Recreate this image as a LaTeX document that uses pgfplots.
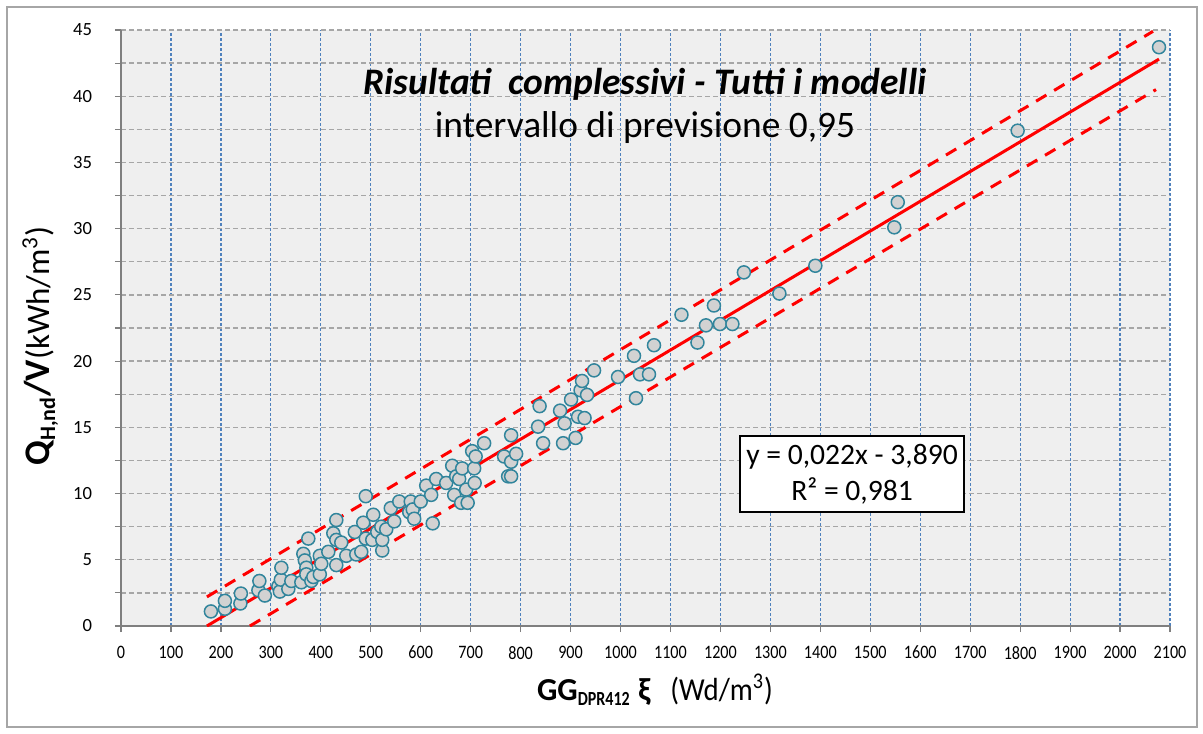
\documentclass[border=0pt]{standalone}
\usepackage{fontspec}
\setmainfont{Carlito}
\usepackage{graphicx}
\usepackage{pgfplots}
\pgfplotsset{compat=1.18}
\usepackage{pgfplotstable}
\definecolor{plotbg}{HTML}{EFEFEF}
\definecolor{vgrid}{HTML}{4F81BD}
\definecolor{hgrid}{HTML}{A6A6A6}
\definecolor{axgray}{HTML}{7F7F7F}
\definecolor{mkedge}{HTML}{31859C}
\definecolor{mkfill}{HTML}{D2D2D2}
\pgfplotstableread{
x y
180 1.1
208 1.3
208 1.9
239 1.7
240 2.45
275 2.7
277 3.4
288 2.3
315 3.0
318 2.6
320 3.5
321 4.4
335 2.8
341 3.4
361 3.3
365 5.45
368 4.95
371 4.4
371 3.9
375 6.6
381 3.4
385 3.7
398 5.3
398 3.9
401 4.7
415 5.6
425 7.0
431 8.0
431 4.6
431 6.5
441 6.3
451 5.3
468 7.1
471 5.4
481 5.6
485 7.8
490 9.8
490 6.6
503 6.5
505 8.4
513 7.1
521 7.5
523 5.7
523 6.5
531 7.3
540 8.9
547 7.9
557 9.4
577 8.6
580 9.4
584 8.8
587 8.1
600 9.4
611 10.6
621 9.9
624 7.75
631 11.1
651 10.8
663 12.1
667 9.9
671 11.3
677 11.1
681 9.3
683 11.9
691 10.3
694 9.3
703 13.2
707 11.9
708 10.8
710 12.8
727 13.8
767 12.8
775 11.3
781 11.3
781 12.4
781 14.4
791 13.0
835 15.05
838 16.6
845 13.8
879 16.26
885 13.8
888 15.3
901 17.1
910 14.2
915 15.8
920 17.8
923 18.5
928 15.7
933 17.45
947 19.3
995 18.8
1027 20.4
1031 17.2
1039 19.0
1057 19.0
1067 21.2
1122 23.5
1154 21.4
1171 22.7
1187 24.2
1199 22.8
1224 22.8
1247 26.7
1318 25.1
1390 27.2
1548 30.1
1555 32.0
1795 37.4
2078 43.7
}\datatable
\begin{document}
\begin{tikzpicture}
\path (-60.5pt,-53.5pt) rectangle (541pt,313pt);
\draw[color=black!35, line width=0.6pt] (-57pt,-50.5pt) rectangle (538pt,309.5pt);
\begin{axis}[
  at={(0,0)}, anchor=south west,
  scale only axis, width=524.5pt, height=298pt,
  xmin=0, xmax=2100, ymin=0, ymax=45,
  axis x line=bottom, axis y line=left,
  axis line style={axgray, line width=0.8pt, -},
  x axis line style={line width=1.4pt},
  axis background/.style={fill=plotbg},
  xtick distance=100,
  ytick={0,2.5,...,45},
  yticklabels={0,,5,,10,,15,,20,,25,,30,,35,,40,,45},
  tick align=outside,
  major tick length=3pt,
  tick style={axgray, line width=0.6pt},
  xmajorgrids, ymajorgrids,
  x grid style={vgrid, line width=0.6pt, dash pattern=on 1.5pt off 1pt},
  y grid style={hgrid, line width=0.7pt, dash pattern=on 2.6pt off 1.4pt},
  /pgf/number format/assume math mode=true,
  /pgf/number format/1000 sep={},
  xticklabel={\scalebox{0.85}[1]{\pgfmathprintnumber{\tick}}},
  xticklabel style={font=\fontsize{9.5}{11}\selectfont, yshift=-3.5pt},
  yticklabel style={font=\fontsize{9.3}{11}\selectfont, xshift=-8pt},
  xlabel={{\fontsize{16}{18}\selectfont\bfseries GG\textsubscript{\scalebox{0.8}[1]{\fontsize{10}{11}\selectfont DPR412}} ξ}\quad{\fontsize{16}{18}\selectfont\scalebox{0.9}[1]{(Wd/m\textsuperscript{3})}}},
  xlabel style={at={(axis description cs:0.509,-0.107)}, anchor=center},
  ylabel={{\fontsize{18}{20}\selectfont\bfseries Q\textsubscript{\fontsize{11}{12}\selectfont H,nd}/V}{\fontsize{16.5}{18}\selectfont (kWh/m\textsuperscript{3})}},
  ylabel style={at={(axis description cs:-0.077,0.47)}, anchor=center},
  clip=true,
]
\addplot[only marks, mark=*, mark size=3.25pt,
  mark options={draw=mkedge, fill=mkfill, line width=0.75pt}] table {\datatable};
\addplot[red, line width=1.5pt] coordinates {(172,0) (2078,42.8)};
\addplot[red, line width=1.5pt, dash pattern=on 6pt off 4.5pt] coordinates {(172,2.2) (2066,44.9)};
\addplot[red, line width=1.5pt, dash pattern=on 6pt off 4.5pt] coordinates {(258,0) (2072,40.5)};
\node[font=\fontsize{18.7}{20}\selectfont\bfseries\itshape] at (axis cs:1049,40.9) {Risultati\ \ complessivi - Tutti i modelli};
\node[font=\fontsize{18.7}{20}\selectfont] at (axis cs:1049,37.6) {intervallo di previsione 0,95};
\node[draw=black, line width=0.8pt, fill=white, minimum width=112pt, minimum height=38pt,
  align=center, font=\fontsize{14.8}{18}\selectfont, inner sep=1pt] at (axis cs:1463.5,11.48)
  {y = 0,022x - 3,890\\R² = 0,981};
\end{axis}
\end{tikzpicture}
\end{document}
